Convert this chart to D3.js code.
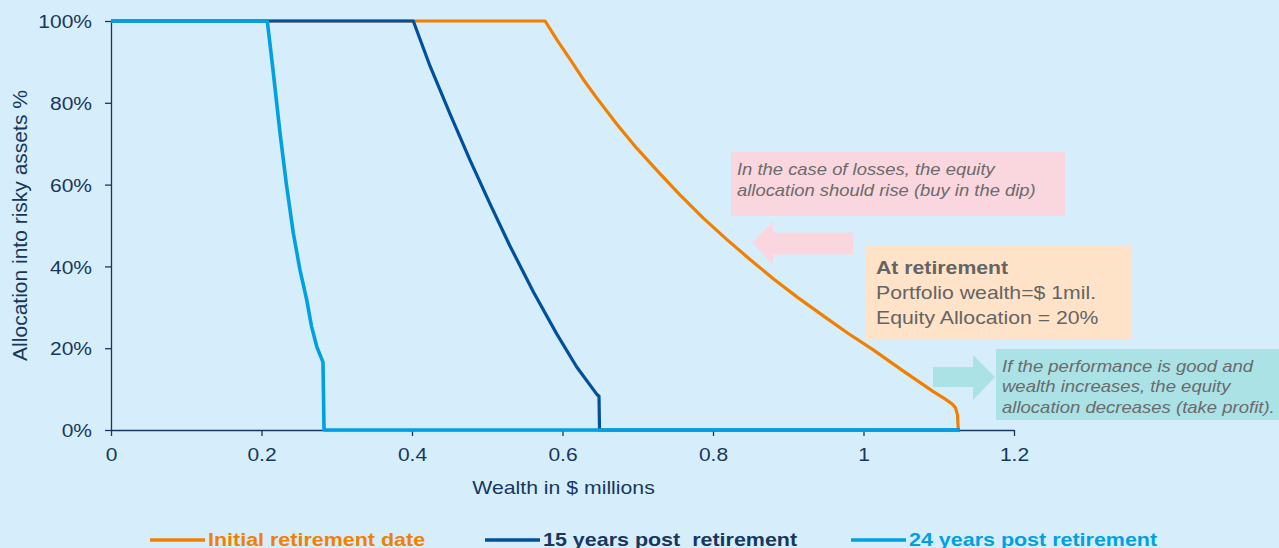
<!DOCTYPE html>
<html>
<head>
<meta charset="utf-8">
<script src="https://cdn.jsdelivr.net/npm/d3@7"></script>
<style>
  html, body { margin: 0; padding: 0; background: #d6eefc; overflow: hidden; }
  svg { display: block; font-family: Arial, "Liberation Sans", sans-serif; }
  text { white-space: pre; }
</style>
</head>
<body>
<svg id="chart"></svg>
<script>
var width = 1279;
var height = 548;
var margin = { top: 21, right: 265, bottom: 118, left: 111 };

// series values (wealth in $m, allocation %)
var initialWealth = [0, 0.5769, 0.5933, 0.6106, 0.6277, 0.6454, 0.672, 0.6986, 0.7273, 0.7561, 0.7871, 0.8182, 0.8492, 0.8801, 0.9133, 0.9466, 0.9798, 1.013, 1.053, 1.0928, 1.1083, 1.1176, 1.1223, 1.1249, 1.126, 1.128];
var initialAlloc  = [100, 100, 95.2, 90.5, 85.7, 81.2, 74.8, 68.9, 63.1, 57.5, 51.8, 46.6, 41.7, 37.0, 32.3, 27.9, 23.6, 19.6, 14.4, 9.4, 7.6, 6.4, 5.4, 3.7, 0, 0];

var post15Wealth = [0, 0.4017, 0.4239, 0.4505, 0.4771, 0.5037, 0.5302, 0.5612, 0.5923, 0.6189, 0.6462, 0.6485, 0.6492, 1.128];
var post15Alloc  = [100, 100, 89.0, 77.3, 66.0, 55.3, 45.0, 33.8, 23.5, 15.4, 8.6, 8.3, 0, 0];

var post24Wealth = [0, 0.2077, 0.2153, 0.2246, 0.2332, 0.2423, 0.2512, 0.2601, 0.2664, 0.2734, 0.2817, 0.2831, 1.128];
var post24Alloc  = [100, 100, 88.0, 72.6, 59.9, 48.1, 39.1, 31.8, 25.4, 20.4, 16.6, 0, 0];

var seriesNames = ["Initial retirement date", "15 years post  retirement", "24 years post retirement"];
var seriesColors = ["#f08000", "#00509e", "#00a0e3"];
var legendTextColors = ["#f08000", "#17375e", "#00a0e3"];

var xTicks = [0, 0.2, 0.4, 0.6, 0.8, 1, 1.2];
var yTicks = [0, 20, 40, 60, 80, 100];

var chartWidth = 1014 - margin.left;
var chartHeight = 430 - margin.top;
var stretch = 1.13;   // text in the picture is slightly wide

var svg = d3.select("#chart").attr("width", width).attr("height", height);
var axisColor = "#17375e";

var x = d3.scaleLinear().domain([0, 1.2]).range([margin.left, margin.left + chartWidth]);
var y = d3.scaleLinear().domain([0, 100]).range([margin.top + chartHeight, margin.top]);

function wideText(parent, px, py, str, size) {
    return parent.append("text")
        .attr("transform", `translate(${px},${py}) scale(${stretch},1)`)
        .attr("font-size", size + "px")
        .text(str);
}

// annotation boxes
svg.append("rect").attr("x", 731).attr("y", 152).attr("width", 334).attr("height", 64).attr("fill", "#fad6df");
svg.append("path").attr("fill", "#fad6df")
    .attr("d", "M752,243 L773,221.5 L773,232.5 L853,232.5 L853,254.5 L773,254.5 L773,265 Z");

svg.append("rect").attr("x", 866).attr("y", 245).attr("width", 265).attr("height", 95).attr("fill", "#ffe3c9");

svg.append("rect").attr("x", 996).attr("y", 349).attr("width", 283).attr("height", 71).attr("fill", "#aae2e6");
svg.append("path").attr("fill", "#aae2e6")
    .attr("d", "M933,367 L973,367 L973,355 L995,377 L973,400 L973,387 L933,387 Z");

var noteColor = "#6b6b6b";
var pinkNote = ["In the case of losses, the equity", "allocation should rise (buy in the dip)"];
pinkNote.forEach(function (t, i) {
    wideText(svg, 737, 175 + i * 21, t, 16.3)
        .attr("font-style", "italic").attr("fill", noteColor);
});

var retireNote = ["At retirement", "Portfolio wealth=$ 1mil.", "Equity Allocation = 20%"];
retireNote.forEach(function (t, i) {
    wideText(svg, 876, 273.5 + i * 25, t, 18.8)
        .attr("font-weight", i == 0 ? "bold" : "normal").attr("fill", "#646464");
});

var tealNote = ["If the performance is good and", "wealth increases, the equity", "allocation decreases (take profit)."];
tealNote.forEach(function (t, i) {
    wideText(svg, 1002, 371.5 + i * 20.5, t, 16.4)
        .attr("font-style", "italic").attr("fill", noteColor);
});

// axes
var xAxis = svg.append("g")
    .attr("transform", `translate(0,${margin.top + chartHeight})`)
    .call(d3.axisBottom(x).tickValues(xTicks).tickSize(6).tickSizeOuter(0).tickFormat(d3.format("")));

var yAxis = svg.append("g")
    .attr("transform", `translate(${margin.left},0)`)
    .call(d3.axisLeft(y).tickValues(yTicks).tickSize(6).tickSizeOuter(0).tickFormat(d => d + "%"));

[xAxis, yAxis].forEach(function (a) {
    a.select(".domain").attr("stroke", axisColor).attr("stroke-width", 1.3);
    a.selectAll(".tick line").attr("stroke", axisColor).attr("stroke-width", 1.3);
    a.selectAll(".tick text").attr("fill", axisColor).attr("font-size", "18.6px")
        .attr("font-family", "Arial, 'Liberation Sans', sans-serif")
        .attr("x", 0).attr("y", 0).attr("dy", 0);
});
xAxis.selectAll(".tick text").attr("transform", `translate(0,31) scale(${stretch},1)`);
yAxis.selectAll(".tick text").attr("transform", `translate(-19,6.7) scale(${stretch},1)`);

wideText(svg, 563.5, 494, "Wealth in $ millions", 18.8)
    .attr("text-anchor", "middle").attr("fill", axisColor);

svg.append("text")
    .attr("transform", `translate(27,${y(50)}) rotate(-90)`)
    .attr("text-anchor", "middle").attr("font-size", "21px").attr("fill", axisColor)
    .text("Allocation into risky assets %");

// lines
var seriesData = [
    d3.zip(initialWealth, initialAlloc),
    d3.zip(post15Wealth, post15Alloc),
    d3.zip(post24Wealth, post24Alloc)
];

var line = d3.line()
    .x(d => x(d[0]))
    .y(d => y(d[1]));

seriesData.forEach(function (s, i) {
    svg.append("path")
        .datum(s)
        .attr("fill", "none")
        .attr("stroke", seriesColors[i])
        .attr("stroke-width", i == 2 ? 3.6 : 3.2)
        .attr("stroke-linejoin", "round")
        .attr("d", line);
});

// legend
var legendX = [150, 485, 851];
seriesNames.forEach(function (name, i) {
    var g = svg.append("g").attr("transform", `translate(${legendX[i]},540)`);
    g.append("line").attr("x1", 0).attr("x2", 55).attr("y1", 0).attr("y2", 0)
        .attr("stroke", seriesColors[i]).attr("stroke-width", 3.5);
    wideText(g, 58, 5.5, name, 19)
        .attr("font-weight", "bold").attr("fill", legendTextColors[i]);
});
</script>
</body>
</html>
